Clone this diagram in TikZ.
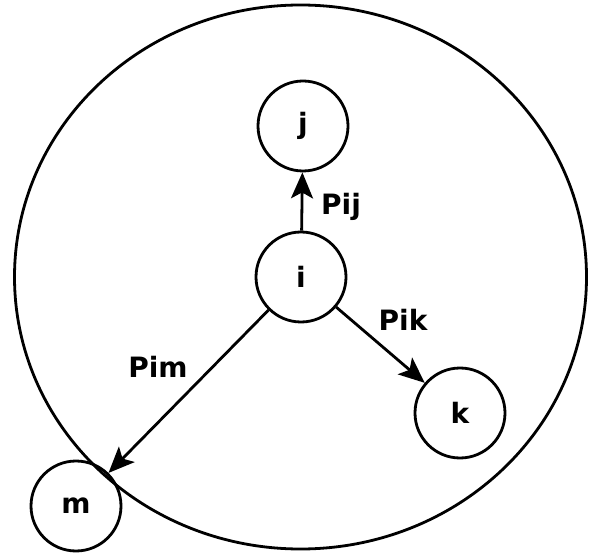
\documentclass[tikz,border=0pt]{standalone}
\usepackage{fontspec}
\setmainfont{DejaVu Sans}
\usetikzlibrary{arrows.meta}
\tikzset{
  state/.style={draw, circle, line width=2.8pt, minimum size=90pt, inner sep=0pt, font=\fontsize{28}{32}\selectfont\bfseries},
  flow/.style={line width=2.8pt, -{Stealth[length=26pt, width=22pt, inset=6pt]}},
  prob/.style={font=\fontsize{28}{32}\selectfont\bfseries}
}
\begin{document}
\begin{tikzpicture}[x=1pt, y=-1pt]
    \useasboundingbox (0,0) rectangle (589,553);
    % draw the outer set
    \draw[line width=2.8pt] (300.5,277) ellipse (286pt and 272pt);
    % the states
    \node[state] (i) at (301,277) {i};
    \node[state] (j) at (303,126) {j};
    \node[state] (k) at (460,413) {k};
    \node[state] (m) at (76,506) {m};
    % draw the arrows
    \draw[flow] (i) -- (j);
    \draw[flow] (i) -- (k);
    \draw[flow] (i) -- (m);
    % the texts
    \node[prob] (pij) at (341,207) {Pij};
    \node[prob] (pik) at (403,320) {Pik};
    \node[prob] (pim) at (158,367) {Pim};
\end{tikzpicture}
\end{document}
